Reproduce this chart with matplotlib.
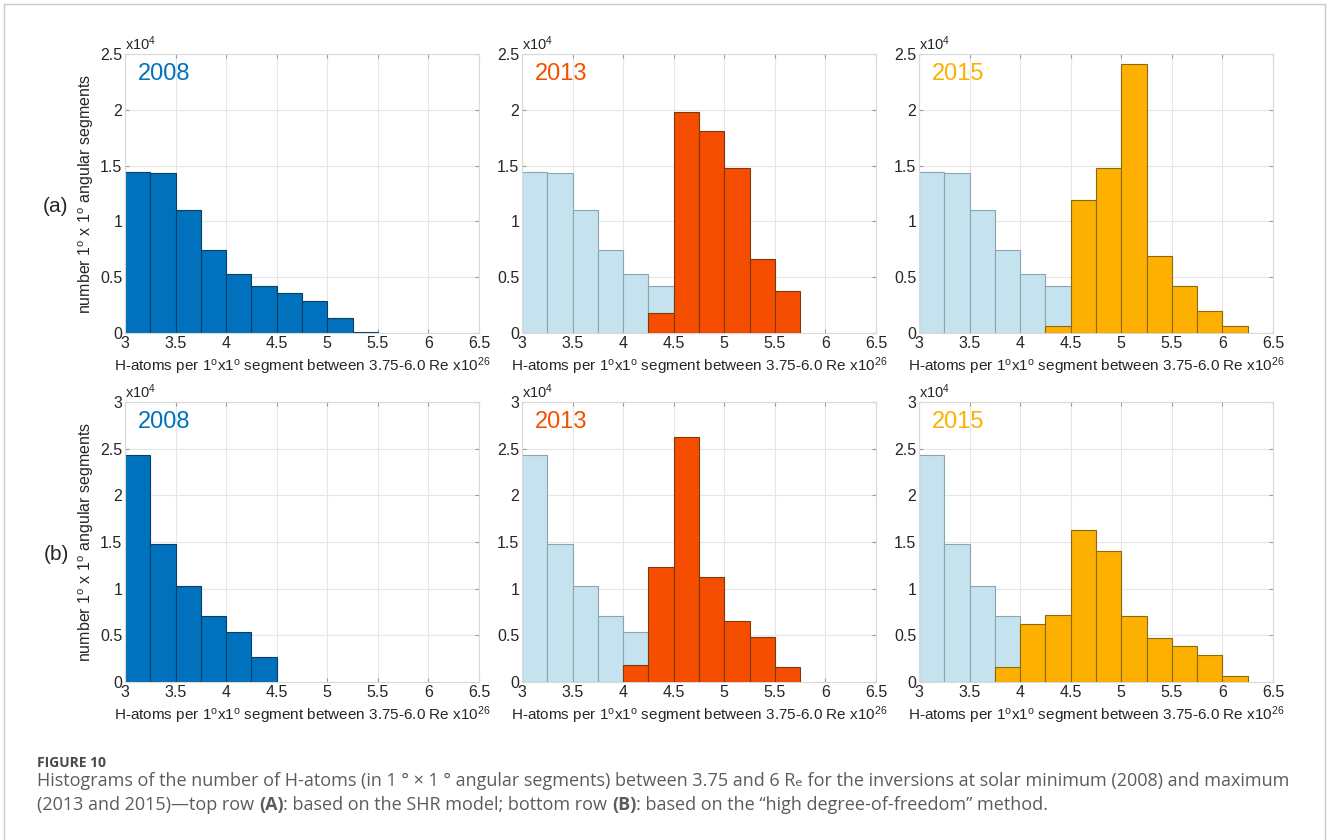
import matplotlib
matplotlib.use("Agg")
import matplotlib.pyplot as plt
from matplotlib.patches import Rectangle

plt.rcParams['font.family'] = ['Liberation Sans', 'DejaVu Sans']
plt.rcParams['mathtext.fontset'] = 'custom'
plt.rcParams['mathtext.rm'] = 'Liberation Sans'
plt.rcParams['mathtext.it'] = 'Liberation Sans'

# bins of 0.25 starting at 3.0 (x1e26 H-atoms per segment)
bin_start = 3.0
bin_width = 0.25

# top row (a): SHR model, counts x1e4
shr_2008 = [1.44, 1.43, 1.10, 0.74, 0.53, 0.42, 0.36, 0.29, 0.135, 0.006]
shr_2013_first_bin = 5
shr_2013 = [0.175, 1.98, 1.81, 1.48, 0.66, 0.38]
shr_2015_first_bin = 5
shr_2015 = [0.06, 1.19, 1.48, 2.41, 0.69, 0.42, 0.195, 0.066]

# bottom row (b): high degree-of-freedom method, counts x1e4
hdf_2008 = [2.43, 1.48, 1.03, 0.705, 0.54, 0.272]
hdf_2013_first_bin = 4
hdf_2013 = [0.178, 1.235, 2.62, 1.12, 0.652, 0.487, 0.165]
hdf_2015_first_bin = 3
hdf_2015 = [0.158, 0.623, 0.716, 1.63, 1.40, 0.712, 0.473, 0.383, 0.294, 0.064]

years = ['2008', '2013', '2015']
row_labels = ['(a)', '(b)']
xticks = [3, 3.5, 4, 4.5, 5, 5.5, 6, 6.5]
xticklabels = ['3', '3.5', '4', '4.5', '5', '5.5', '6', '6.5']
yticks_top = [0, 0.5, 1, 1.5, 2, 2.5]
yticklabels_top = ['0', '0.5', '1', '1.5', '2', '2.5']
yticks_bot = [0, 0.5, 1, 1.5, 2, 2.5, 3]
yticklabels_bot = ['0', '0.5', '1', '1.5', '2', '2.5', '3']

xlabel = 'H-atoms per 1$^{\\rm o}$x1$^{\\rm o}$ segment between 3.75-6.0 Re x10$^{26}$'
ylabel = 'number 1$^{\\rm o}$ x 1$^{\\rm o}$ angular segments'
caption_head = 'FIGURE 10'
caption_1 = ('Histograms of the number of H-atoms (in 1 \u00b0 \u00d7 1 \u00b0 angular segments) between 3.75 and 6 R\u2091 '
             'for the inversions at solar minimum (2008) and maximum')
caption_2 = [('(2013 and 2015)\u2014top row ', False), ('(A)', True),
             (': based on the SHR model; bottom row ', False), ('(B)', True),
             (': based on the \u201chigh degree-of-freedom\u201d method.', False)]

c_2008 = '#0072bd'
c_2013 = '#f64e00'
c_2015 = '#fdb000'
c_bg = '#c5e3ef'
year_colors = [c_2008, c_2013, c_2015]


def edges(first_bin, n):
    return [bin_start + (first_bin + i) * bin_width for i in range(n)]


fig = plt.figure(figsize=(13.28, 8.4), dpi=100)

# light frame around the figure
fig.patches.append(Rectangle((4 / 1328, -0.01), 1321 / 1328, 1 - 4 / 840 + 0.01,
                             transform=fig.transFigure, fill=False,
                             edgecolor='#c8c8c8', linewidth=1.0))

lefts = [125, 522, 919]
rows = [(54, 333), (402, 682)]
data = [
    [(shr_2008, 0), (shr_2013, shr_2013_first_bin), (shr_2015, shr_2015_first_bin)],
    [(hdf_2008, 0), (hdf_2013, hdf_2013_first_bin), (hdf_2015, hdf_2015_first_bin)],
]
base = [shr_2008, hdf_2008]

for r, (top, bot) in enumerate(rows):
    for c in range(3):
        ax = fig.add_axes([lefts[c] / 1328, 1 - bot / 840, 354 / 1328, (bot - top) / 840])
        vals, first = data[r][c]
        if c > 0:
            ax.bar(edges(0, len(base[r])), base[r], width=bin_width, align='edge',
                   color=c_bg, edgecolor='#8aa4b0', linewidth=0.8, zorder=2)
            ax.bar(edges(first, len(vals)), vals, width=bin_width, align='edge',
                   color=year_colors[c], edgecolor='#7a3a10' if c == 1 else '#8a6a10',
                   linewidth=0.8, zorder=3)
        else:
            ax.bar(edges(0, len(vals)), vals, width=bin_width, align='edge',
                   color=c_2008, edgecolor='#0a3e66', linewidth=0.8, zorder=2)
        ax.set_xlim(3, 6.5)
        if r == 0:
            ax.set_ylim(0, 2.5)
            ax.set_yticks(yticks_top)
            ax.set_yticklabels(yticklabels_top)
        else:
            ax.set_ylim(0, 3)
            ax.set_yticks(yticks_bot)
            ax.set_yticklabels(yticklabels_bot)
        ax.set_xticks(xticks)
        ax.set_xticklabels(xticklabels)
        ax.grid(True, color='#e6e6e6', linewidth=0.8, zorder=0)
        ax.set_axisbelow(True)
        for s in ax.spines.values():
            s.set_color('#d9d9d9')
            s.set_linewidth(0.8)
        ax.tick_params(direction='in', length=3, color='#9a9a9a', labelsize=11.5,
                       labelcolor='#262626', pad=2, top=True, right=True)
        ax.set_xlabel(xlabel, fontsize=11, color='#262626', labelpad=3)
        if c == 0:
            ax.set_ylabel(ylabel, fontsize=11.5, color='#262626', labelpad=3)
            ax.text(-0.195, 0.455, row_labels[r], transform=ax.transAxes,
                    fontsize=15, color='#262626', ha='center', va='center')
        ax.text(0.0, 1.005, 'x10$^{4}$', transform=ax.transAxes, fontsize=10.5,
                color='#262626', ha='left', va='bottom')
        ax.text(0.035, 0.93, years[c], transform=ax.transAxes, fontsize=17,
                color=year_colors[c], ha='left', va='center')

# caption
cap_color = '#5c5c5c'
cap_font = ['Open Sans', 'DejaVu Sans']
fig.text(37 / 1328, 1 - 763 / 840, caption_head, fontsize=10, color='#4a4a4a',
         family=cap_font, fontweight='bold', va='center')
fig.text(37 / 1328, 1 - 781 / 840, caption_1, fontsize=13, color=cap_color,
         family=cap_font, va='center')

# second line with bold (A)/(B)
x = 37 / 1328
y = 1 - 805 / 840
renderer = fig.canvas.get_renderer()
for part, bold in caption_2:
    t = fig.text(x, y, part, fontsize=13, color=cap_color, family=cap_font,
                 va='center', fontweight='bold' if bold else 'normal')
    bb = t.get_window_extent(renderer=renderer)
    x += bb.width / fig.bbox.width

fig.savefig('out.png', dpi=100)
